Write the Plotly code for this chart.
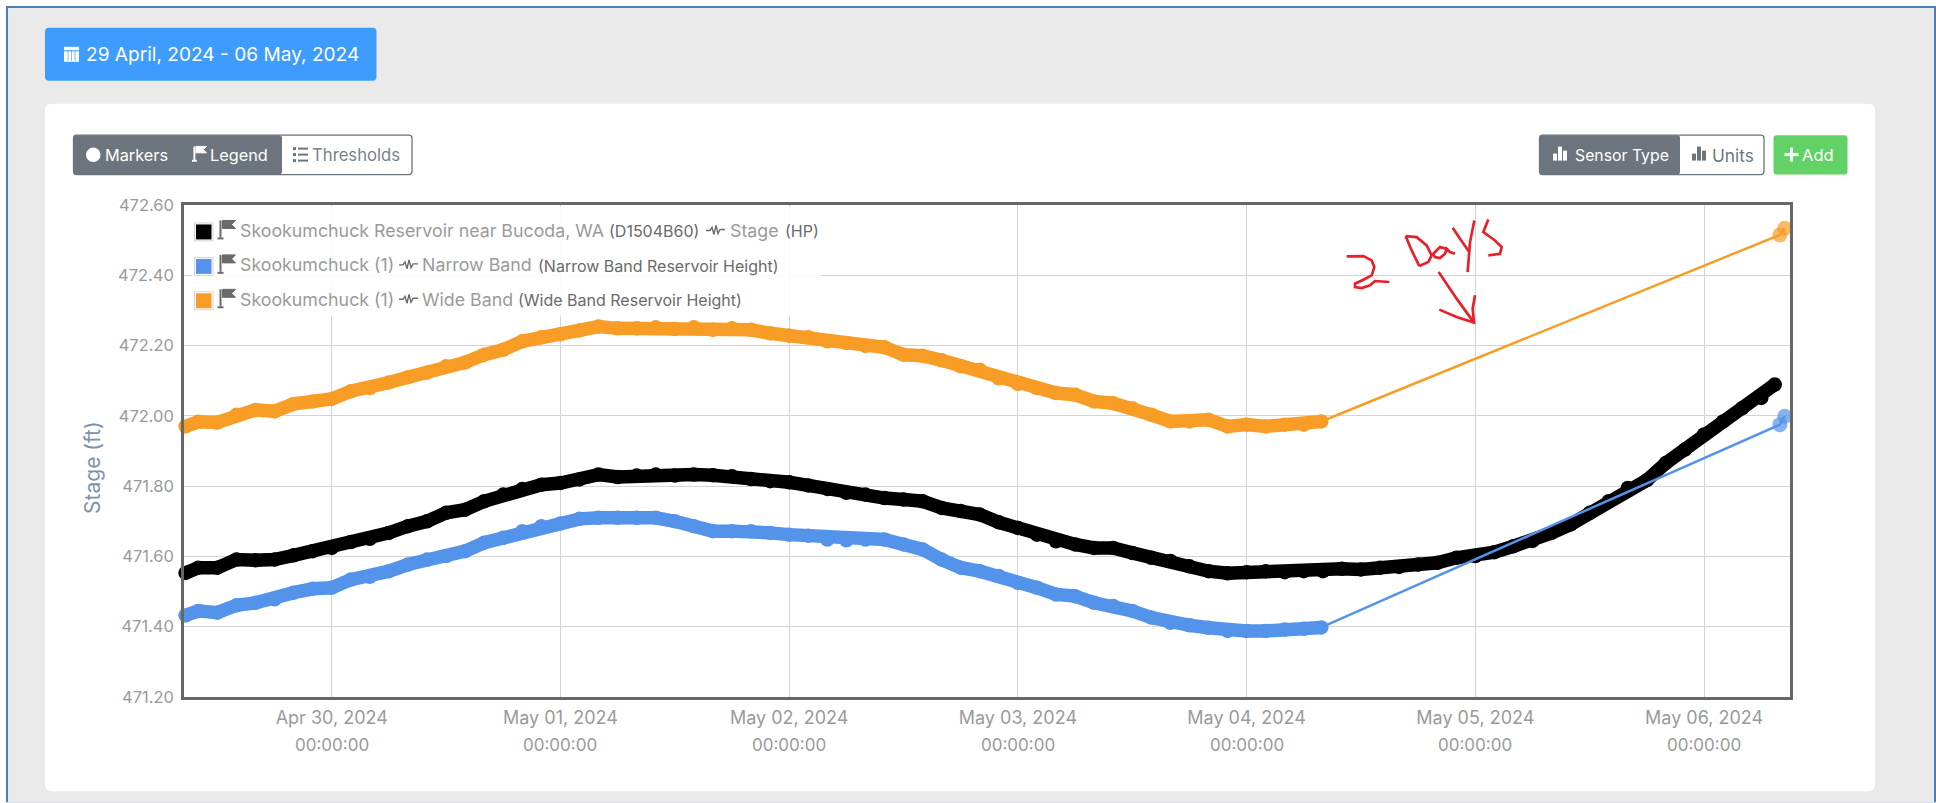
import pandas as pd
import plotly.graph_objects as go

W, H = 1936, 803
L, R, T, B = 184, 1790, 204.5, 697.5

FONT = "Inter"
BLACK, BLUE, ORANGE = "#000000", "#5393EA", "#F79D25"
TXT = "#9a9a9a"
DARK = "#6a6a6a"

TITLE = "29 April, 2024 - 06 May, 2024"
YLABEL = "Stage (ft)"
TICK_DATES = ["2024-04-30", "2024-05-01", "2024-05-02", "2024-05-03", "2024-05-04", "2024-05-05", "2024-05-06"]
TICK_TEXT = ["Apr 30, 2024", "May 01, 2024", "May 02, 2024", "May 03, 2024", "May 04, 2024", "May 05, 2024", "May 06, 2024"]
TICK_TIME = "00:00:00"
Y_TICKS = [471.2, 471.4, 471.6, 471.8, 472.0, 472.2, 472.4, 472.6]

BANDS_T = (["2024-04-29 08:40"]
           + [str(t) for t in pd.date_range("2024-04-29 10:00", "2024-05-04 06:00", freq="2h")]
           + ["2024-05-04 07:50"])
STAGE_T = (["2024-04-29 08:40"]
           + [str(t) for t in pd.date_range("2024-04-29 10:00", "2024-05-06 06:00", freq="2h")]
           + ["2024-05-06 07:25"])
END_T = ["2024-05-06 07:57", "2024-05-06 08:28"]

WIDE = [471.970, 471.983, 471.981, 472.003, 472.017, 472.013, 472.034, 472.041, 472.048, 472.070, 472.079, 472.095,
        472.110, 472.123, 472.141, 472.152, 472.174, 472.188, 472.212, 472.224, 472.232, 472.243, 472.254, 472.249,
        472.249, 472.252, 472.247, 472.252, 472.245, 472.249, 472.245, 472.235, 472.228, 472.224, 472.212, 472.207,
        472.199, 472.195, 472.174, 472.171, 472.158, 472.141, 472.131, 472.107, 472.091, 472.079, 472.065,
        472.060, 472.041, 472.036, 472.022, 472.003, 471.984, 471.984, 471.989, 471.970, 471.975, 471.970, 471.975,
        471.975, 471.984]
WIDE_END = [472.515, 472.534]

NARROW = [471.432, 471.445, 471.440, 471.461, 471.468, 471.478, 471.497, 471.508, 471.511, 471.534, 471.542, 471.558,
          471.577, 471.591, 471.601, 471.615, 471.639, 471.653, 471.672, 471.686, 471.694, 471.707, 471.710, 471.710,
          471.710, 471.710, 471.700, 471.686, 471.672, 471.672, 471.672, 471.667, 471.662, 471.659, 471.648, 471.646,
          471.648, 471.648, 471.634, 471.620, 471.591, 471.568, 471.558, 471.544, 471.525, 471.511, 471.492,
          471.487, 471.468, 471.459, 471.445, 471.426, 471.411, 471.404, 471.397, 471.388, 471.388, 471.388, 471.392,
          471.394, 471.398]
NARROW_END = [471.975, 471.999]

STAGE = [471.553, 471.568, 471.568, 471.591, 471.589, 471.591, 471.603, 471.615, 471.624, 471.641, 471.650, 471.667,
         471.686, 471.700, 471.724, 471.733, 471.757, 471.776, 471.792, 471.804, 471.809, 471.819, 471.833, 471.826,
         471.830, 471.833, 471.830, 471.833, 471.831, 471.828, 471.820, 471.814, 471.811, 471.802, 471.792, 471.781,
         471.776, 471.766, 471.762, 471.757, 471.738, 471.729, 471.719, 471.697, 471.681, 471.662, 471.643,
         471.634, 471.624, 471.624, 471.610, 471.596, 471.587, 471.572, 471.558, 471.552, 471.555, 471.558, 471.555,
         471.558, 471.558, 471.565, 471.563, 471.568, 471.570, 471.577, 471.582, 471.596, 471.601,
         471.612, 471.629, 471.644, 471.667, 471.691, 471.724, 471.757, 471.795, 471.817, 471.866, 471.904, 471.947,
         471.984, 472.022, 472.051, 472.089]

LEGEND = [
    (BLACK, [("Skookumchuck Reservoir near Bucoda, WA", 241, False), ("(D1504B60)", 609.5, True),
             ("~", 706, None), ("Stage", 731, False), ("(HP)", 786, True)]),
    (BLUE, [("Skookumchuck (1)", 241, False), ("~", 399, None), ("Narrow Band", 423, False),
            ("(Narrow Band Reservoir Height)", 539, True)]),
    (ORANGE, [("Skookumchuck (1)", 241, False), ("~", 399, None), ("Wide Band", 423, False),
              ("(Wide Band Reservoir Height)", 519, True)]),
]
LEGEND_Y = [230, 264.5, 299]


def px(x):
    return (x - L) / (R - L)


def py(y):
    return (B - y) / (B - T)


def date_at(x):
    t0 = pd.Timestamp("2024-04-30")
    return str(t0 + pd.Timedelta(days=(x - 331.7) / 228.7))


def val_at(y):
    return 471.2 + (B - y) / (B - T) * 1.4


def path_of(points, close=False):
    s = "M " + " L ".join(f"{px(x):.5f} {py(y):.5f}" for x, y in points)
    return s + (" Z" if close else "")


shapes, ann = [], []


def rrect(x0, y0, x1, y1, fill, line=None, r=4, lw=1):
    d = (f"M {px(x0+r):.5f} {py(y0):.5f} L {px(x1-r):.5f} {py(y0):.5f} "
         f"Q {px(x1):.5f} {py(y0):.5f} {px(x1):.5f} {py(y0+r):.5f} "
         f"L {px(x1):.5f} {py(y1-r):.5f} Q {px(x1):.5f} {py(y1):.5f} {px(x1-r):.5f} {py(y1):.5f} "
         f"L {px(x0+r):.5f} {py(y1):.5f} Q {px(x0):.5f} {py(y1):.5f} {px(x0):.5f} {py(y1-r):.5f} "
         f"L {px(x0):.5f} {py(y0+r):.5f} Q {px(x0):.5f} {py(y0):.5f} {px(x0+r):.5f} {py(y0):.5f} Z")
    shapes.append(dict(type="path", xref="paper", yref="paper", path=d, fillcolor=fill,
                       line=dict(color=line or fill, width=lw if line else 0), layer="below"))


def rect(x0, y0, x1, y1, fill, layer="above"):
    shapes.append(dict(type="rect", xref="paper", yref="paper", x0=px(x0), x1=px(x1), y0=py(y1), y1=py(y0),
                       fillcolor=fill, line=dict(width=0), layer=layer))


def poly(points, color, width=2, fill=None, close=False):
    shapes.append(dict(type="path", xref="paper", yref="paper", path=path_of(points, close), layer="above",
                       fillcolor=fill, line=dict(color=color, width=width)))


def text(s, x, y, size, color, anchor="left", font=FONT):
    ann.append(dict(xref="paper", yref="paper", x=px(x), y=py(y), text=s, showarrow=False, xanchor=anchor,
                    yanchor="middle", xshift=-3 if anchor == "left" else 0,
                    font=dict(family=font, size=size, color=color)))


def flag(x, y, c=DARK, s=1.0):
    poly([(x + 3 * s, y - 9 * s), (x + 3 * s, y + 8 * s)], c, 2)
    poly([(x, y + 9 * s), (x + 6 * s, y + 9 * s)], c, 2)
    poly([(x + 5 * s, y - 9 * s), (x + 18 * s, y - 9 * s), (x + 14 * s, y - 5 * s), (x + 18 * s, y - 1 * s),
          (x + 5 * s, y - 1 * s)], c, 1, fill=c, close=True)


def pulse(x, y):
    poly([(x, y), (x + 4, y), (x + 6, y - 3), (x + 8, y + 4), (x + 10, y - 5), (x + 12, y + 3), (x + 14, y - 1),
          (x + 19, y - 1)], DARK, 1.4)


# page frame and panels
rect(0, 0, W, H, "#ffffff", "below")
rect(6, 5, W, H, "#4A7EBB", "below")
rect(8, 7, 1934, H, "#EAEAEA", "below")
rrect(45, 103, 1875, 792, "#ffffff", r=7)

# date button
rrect(45, 27, 376.5, 80, "#3F9CFF", r=4)
text(TITLE, 222, 53.5, 19.1, "#ffffff", "center")
rect(64, 46, 79, 61, "#ffffff")
for gx in (68, 71.5, 75):
    poly([(gx, 49), (gx, 60)], "#3F9CFF", 0.7)
poly([(64, 50), (79, 50)], "#3F9CFF", 1)

# left button group
rrect(73.5, 134.5, 412, 174, "#ffffff", line="#6C757D", r=3, lw=1.3)
rrect(73.5, 134.5, 282, 174, "#6C757D", r=3)
shapes.append(dict(type="circle", xref="paper", yref="paper", x0=px(86), x1=px(100.5), y0=py(161.5), y1=py(147),
                   fillcolor="#ffffff", line=dict(width=0), layer="above"))
text("Markers", 106, 154.5, 16.3, "#ffffff")
flag(192, 153, "#ffffff", 0.8)
text("Legend", 211, 154.5, 16.3, "#ffffff")
for gy in (148, 154, 160):
    rect(293, gy - 1.5, 296, gy + 1.5, "#6C757D")
    rect(298, gy - 1, 308, gy + 1, "#6C757D")
text("Thresholds", 313, 154.5, 16.7, "#7b8288")

# right button group
rrect(1539.5, 134.5, 1764, 174, "#ffffff", line="#6C757D", r=3, lw=1.3)
rrect(1539.5, 134.5, 1680, 174, "#6C757D", r=3)
for bx, by in ((1553, 153), (1558, 146), (1563, 150)):
    rect(bx, by, bx + 4, 160, "#ffffff")
text("Sensor Type", 1576, 154.5, 15.8, "#ffffff")
for bx, by in ((1692, 153), (1697, 146), (1702, 150)):
    rect(bx, by, bx + 4, 160, "#6C757D")
text("Units", 1713, 154.5, 17.3, "#6C757D")
rrect(1773.5, 134.5, 1847.5, 174, "#62D166", r=3)
rect(1784.5, 152.5, 1798.5, 155.5, "#ffffff")
rect(1790, 147, 1793, 161, "#ffffff")
text("Add", 1803.5, 154.5, 16.5, "#ffffff")

# legend backdrop sits above the grid, below the traces
shapes.append(dict(type="rect", xref="x", yref="y", x0=date_at(192), x1=date_at(821), y0=val_at(316), y1=val_at(206),
                   fillcolor="rgba(255,255,255,0.88)", line=dict(width=0), layer="between"))

# legend rows
for (color, parts), y in zip(LEGEND, LEGEND_Y):
    rect(194, y - 8, 213.5, y + 11, "#d5d5d5")
    rect(195, y - 7, 212.5, y + 10, "#ffffff")
    rect(196, y - 6, 211.5, y + 9, color)
    flag(217.5, y - 1)
    for s, x, small in parts:
        if small is None:
            pulse(x, y)
        elif small:
            text(s, x, y + 1, 16, DARK)
        else:
            text(s, x, y, 17.8, TXT)


# red handwriting, traced in a 3x crop whose origin is (1340, 215)
def ink(points):
    return [(1340 + a / 3, 215 + b / 3) for a, b in points]


RED = "#E8202A"
INK = 2.7
poly(ink([(20, 123), (70, 122), (95, 135), (103, 155), (95, 180), (70, 193), (45, 205), (45, 215), (65, 218), (90, 210),
          (105, 197), (148, 200)]), RED, INK)
poly(ink([(197, 62), (215, 105), (238, 152)]), RED, INK)
poly(ink([(197, 62), (230, 65), (260, 90), (275, 120), (265, 140), (238, 152)]), RED, INK)
poly(ink([(320, 100), (300, 95), (280, 115), (285, 125), (300, 128), (315, 115), (320, 100), (330, 110), (345, 115)]), RED, INK)
poly(ink([(338, 37), (360, 70), (388, 110)]), RED, INK)
poly(ink([(403, 15), (390, 80), (383, 170)]), RED, INK)
poly(ink([(445, 12), (430, 50), (465, 75), (485, 95), (480, 115), (445, 120)]), RED, INK)
poly(ink([(296, 170), (350, 250), (402, 322)]), RED, INK)
poly(ink([(405, 240), (398, 280), (402, 322), (350, 305), (298, 283)]), RED, INK)

# second row of the date labels
for d in TICK_DATES:
    ann.append(dict(xref="x", yref="paper", x=d, y=py(746), text=TICK_TIME, showarrow=False, xanchor="center",
                    yanchor="middle", font=dict(family=FONT, size=17, color=TXT)))

text(YLABEL, 0, 0, 21, "#7f92a8")
ann[-1].update(x=px(93), y=py(468), xanchor="center", yanchor="middle", textangle=-90, xshift=0)

fig = go.Figure()
for name, t, v, end, color in (
    ("Stage (HP)", STAGE_T, STAGE, None, BLACK),
    ("Narrow Band", BANDS_T, NARROW, NARROW_END, BLUE),
    ("Wide Band", BANDS_T, WIDE, WIDE_END, ORANGE),
):
    if end:
        fig.add_trace(go.Scatter(x=[t[-1]] + END_T, y=[v[-1]] + end, mode="lines+markers", name=name,
                                 line=dict(color=color, width=2.5),
                                 marker=dict(color=color, size=[0, 15, 15], line=dict(width=0)),
                                 cliponaxis=False, showlegend=False))
    fig.add_trace(go.Scatter(x=t, y=v, mode="lines+markers", name=name, line=dict(color=color, width=13.5),
                             marker=dict(color=color, size=14.5, line=dict(width=0)),
                             cliponaxis=False, showlegend=False))

fig.update_layout(
    width=W, height=H, autosize=False, showlegend=False,
    margin=dict(l=L, r=W - R, t=T, b=H - B, pad=0),
    paper_bgcolor="#ffffff", plot_bgcolor="rgba(0,0,0,0)",
    shapes=shapes, annotations=ann,
    font=dict(family=FONT),
    xaxis=dict(type="date", range=["2024-04-29 08:30", "2024-05-06 09:01"], tickmode="array",
               tickvals=TICK_DATES, ticktext=TICK_TEXT, showgrid=True, gridcolor="#d4d4d4", gridwidth=1,
               zeroline=False, showline=True, mirror=True, linecolor="#666666", linewidth=2.5,
               ticks="outside", ticklen=3, tickcolor="rgba(0,0,0,0)",
               tickfont=dict(family=FONT, size=18, color=TXT)),
    yaxis=dict(range=[471.2, 472.6], tickmode="array", tickvals=Y_TICKS, tickformat=".2f", showgrid=True,
               gridcolor="#d4d4d4", gridwidth=1, zeroline=False, showline=True, mirror=True, linecolor="#666666",
               linewidth=2.5, ticks="outside", ticklen=4, tickcolor="rgba(0,0,0,0)",
               tickfont=dict(family=FONT, size=16.5, color=TXT)),
)
assert len(BANDS_T) == len(WIDE) == len(NARROW)
assert len(STAGE_T) == len(STAGE)
fig.write_html("out.html", config=dict(displayModeBar=False),
               post_script="document.body.style.margin='0';document.body.style.overflow='hidden';")
